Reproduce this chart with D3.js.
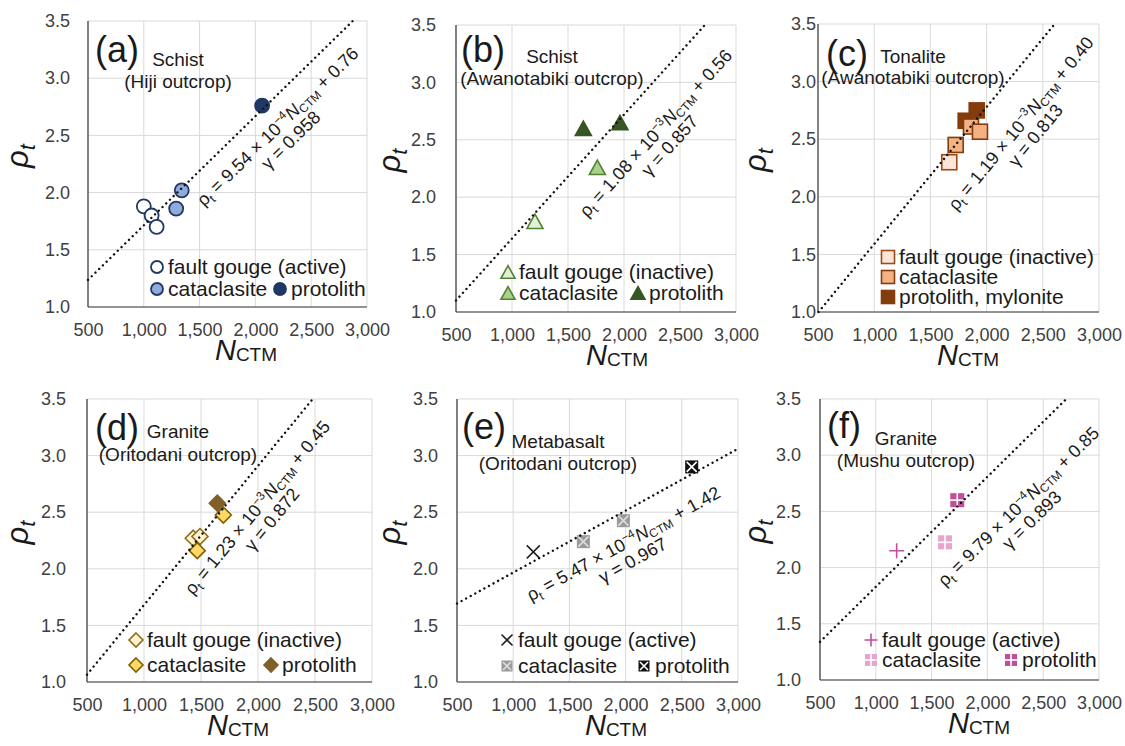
<!DOCTYPE html>
<html>
<head>
<meta charset="utf-8">
<script src="https://cdn.jsdelivr.net/npm/d3@7"></script>
<style>
  body { margin: 0; background: #fff; }
  svg { display: block; }
  text { font-family: "Liberation Sans", Arial, sans-serif; }
</style>
</head>
<body>
<svg id="chart" width="1125" height="746"></svg>
<script>
// ---- axis ticks shared by all six panels ----
const xTicks = [500, 1000, 1500, 2000, 2500, 3000];
const yTicks = [1.0, 1.5, 2.0, 2.5, 3.0, 3.5];

// ---- panel titles ----
const panelTags = ["(a)", "(b)", "(c)", "(d)", "(e)", "(f)"];
const rockTypes = ["Schist", "Schist", "Tonalite", "Granite", "Metabasalt", "Granite"];
const outcrops = ["(Hiji outcrop)", "(Awanotabiki outcrop)", "(Awanotabiki outcrop)",
                  "(Oritodani outcrop)", "(Oritodani outcrop)", "(Mushu outcrop)"];

// ---- linear fits  rho_t = slope * N_CTM + intercept ----
const fitSlope = [9.54e-4, 1.08e-3, 1.19e-3, 1.23e-3, 5.47e-4, 9.79e-4];
const fitIntercept = [0.76, 0.56, 0.40, 0.45, 1.42, 0.85];
const fitMantissa = ["9.54", "1.08", "1.19", "1.23", "5.47", "9.79"];
const fitExponent = ["\u22124", "\u22123", "\u22123", "\u22123", "\u22124", "\u22124"];
const fitGamma = ["0.958", "0.857", "0.813", "0.872", "0.967", "0.893"];

// ---- measurements [N_CTM, rho_t] ----
const gougeA = [[1000, 1.88], [1070, 1.80], [1115, 1.70]];
const cataA  = [[1290, 1.86], [1340, 2.02]];
const protoA = [[2060, 2.76]];

const gougeB = [[1205, 1.79]];
const cataB  = [[1762, 2.26]];
const protoB = [[1637, 2.60], [1964, 2.65]];

const gougeC = [[1668, 2.30]];
const cataC  = [[1725, 2.45], [1861, 2.61], [1941, 2.565]];
const protoC = [[1814, 2.66], [1912, 2.75]];

const gougeD = [[1432, 2.27], [1491, 2.285]];
const cataD  = [[1467, 2.16], [1696, 2.475]];
const protoD = [[1643, 2.58]];

const gougeE = [[1179, 2.15]];
const cataE  = [[1624, 2.24], [1980, 2.425]];
const protoE = [[2588, 2.90]];

const gougeF = [[1187, 2.15]];
const cataF  = [[1620, 2.225]];
const protoF = [[1730, 2.60]];

// ---- legend labels ----
const gougeLabels = ["fault gouge (active)", "fault gouge (inactive)", "fault gouge (inactive)",
                     "fault gouge (inactive)", "fault gouge (active)", "fault gouge (active)"];
const cataLabel = "cataclasite";
const protoLabels = ["protolith", "protolith", "protolith, mylonite", "protolith", "protolith", "protolith"];

// ---- layout of each panel: plot box [left, top, right, bottom] ----
const plotBoxes = [[88, 21, 367, 307], [456, 25, 736, 312], [818, 24, 1099, 312],
                   [87, 399, 372, 682], [457, 399, 738, 682], [820, 399, 1099, 680]];
const yLabelRight = [70, 436, 816, 66, 438, 801];
const xTitleCenter = [246, 617, 968, 238, 616, 979];
const yTitleX = [23, 395, 761, 23, 395, 761];
const tagPos = [[95, 62], [461, 62], [826, 66], [95, 440], [462, 439], [827, 438]];
const subCenter = [178, 552, 913, 178, 558, 906];
const subBase = [[66, 88], [63, 85], [63, 84], [438, 461], [448, 470], [445, 467]];
const eqAlongN = [2055, 2045, 2051, 1818, 1861, 2008];
const eqOffset = [23, 36, 37, 26, 28, 43];
const legendX = [157, 508, 888, 136, 507, 871];
const legendCol2X = [280, 638, null, 271, 644, 1011];
const legendRows = [[267, 289], [272, 293], [257, 277, 297], [640, 665], [640, 666], [640, 660]];

// ---- marker styles per panel: [gouge, cataclasite, protolith] ----
const markerStyles = [
  [{shape: "circle", size: 15, fill: "#ffffff", stroke: "#203864"},
   {shape: "circle", size: 15, fill: "#8faadc", stroke: "#203864"},
   {shape: "circle", size: 15, fill: "#1f3864", stroke: "#1f3864"}],
  [{shape: "triangle", size: 16, fill: "#e2f0d9", stroke: "#548235"},
   {shape: "triangle", size: 16, fill: "#a9d18e", stroke: "#548235"},
   {shape: "triangle", size: 16, fill: "#375623", stroke: "#375623"}],
  [{shape: "square", size: 15, fill: "#fbe5d6", stroke: "#9c4a1a"},
   {shape: "square", size: 15, fill: "#f4b183", stroke: "#843c0c"},
   {shape: "square", size: 15, fill: "#843c0c", stroke: "#843c0c"}],
  [{shape: "diamond", size: 16, fill: "#fff2cc", stroke: "#8c6d1f"},
   {shape: "diamond", size: 16, fill: "#ffd966", stroke: "#7f6000"},
   {shape: "diamond", size: 16, fill: "#806028", stroke: "#806028"}],
  [{shape: "xcross", size: 13, fill: "none", stroke: "#222222"},
   {shape: "xbox", size: 13, fill: "#999999", stroke: "#dddddd"},
   {shape: "xbox", size: 13, fill: "#111111", stroke: "#ffffff"}],
  [{shape: "plus", size: 15, fill: "none", stroke: "#c0509a"},
   {shape: "quad", size: 14, fill: "#e6a5cf", stroke: "none"},
   {shape: "quad", size: 14, fill: "#c0509a", stroke: "none"}]
];

const seriesData = [
  [gougeA, cataA, protoA], [gougeB, cataB, protoB], [gougeC, cataC, protoC],
  [gougeD, cataD, protoD], [gougeE, cataE, protoE], [gougeF, cataF, protoF]
];

const svg = d3.select("#chart");
const TICK_COLOR = "#404040";
const TEXT_COLOR = "#1a1a1a";

function drawMarker(g, st, size) {
  const s = size || st.size, h = s / 2;
  if (st.shape === "circle") {
    g.append("circle").attr("r", h - 0.5).attr("fill", st.fill)
      .attr("stroke", st.stroke).attr("stroke-width", 1.8);
  } else if (st.shape === "triangle") {
    const ht = s * 0.9;
    g.append("path").attr("d", `M0,${-ht / 2}L${h},${ht / 2}L${-h},${ht / 2}Z`)
      .attr("fill", st.fill).attr("stroke", st.stroke).attr("stroke-width", 1.6)
      .attr("stroke-linejoin", "miter");
  } else if (st.shape === "square") {
    g.append("rect").attr("x", -h).attr("y", -h).attr("width", s).attr("height", s)
      .attr("fill", st.fill).attr("stroke", st.stroke).attr("stroke-width", 1.6);
  } else if (st.shape === "diamond") {
    g.append("path").attr("d", `M0,${-h}L${h},0L0,${h}L${-h},0Z`)
      .attr("fill", st.fill).attr("stroke", st.stroke).attr("stroke-width", 1.6);
  } else if (st.shape === "xcross") {
    g.append("path").attr("d", `M${-h},${-h}L${h},${h}M${-h},${h}L${h},${-h}`)
      .attr("stroke", st.stroke).attr("stroke-width", 1.6).attr("fill", "none");
  } else if (st.shape === "xbox") {
    g.append("rect").attr("x", -h).attr("y", -h).attr("width", s).attr("height", s)
      .attr("fill", st.fill);
    const k = h - 1.5;
    g.append("path").attr("d", `M${-k},${-k}L${k},${k}M${-k},${k}L${k},${-k}`)
      .attr("stroke", st.stroke).attr("stroke-width", 1.6).attr("fill", "none");
  } else if (st.shape === "plus") {
    g.append("path").attr("d", `M${-h},0L${h},0M0,${-h}L0,${h}`)
      .attr("stroke", st.stroke).attr("stroke-width", 1.6).attr("fill", "none");
  } else if (st.shape === "quad") {
    const gap = 1.6, q = (s - gap) / 2;
    [[-h, -h], [-h + q + gap, -h], [-h, -h + q + gap], [-h + q + gap, -h + q + gap]]
      .forEach(([x0, y0]) => g.append("rect").attr("x", x0).attr("y", y0)
        .attr("width", q).attr("height", q).attr("fill", st.fill));
  }
}

plotBoxes.forEach((box, i) => {
  const [L, T, R, B] = box;
  const x = d3.scaleLinear().domain([500, 3000]).range([L, R]);
  const y = d3.scaleLinear().domain([1.0, 3.5]).range([B, T]);
  const g = svg.append("g");

  // gridlines
  g.append("g").selectAll("line").data(xTicks).join("line")
    .attr("x1", d => x(d)).attr("x2", d => x(d)).attr("y1", T).attr("y2", B)
    .attr("stroke", "#d9d9d9").attr("stroke-width", 1);
  g.append("g").selectAll("line").data(yTicks).join("line")
    .attr("y1", d => y(d)).attr("y2", d => y(d)).attr("x1", L).attr("x2", R)
    .attr("stroke", "#d9d9d9").attr("stroke-width", 1);

  // tick labels through d3 axes
  const yAxis = d3.axisLeft(y).tickValues(yTicks).tickFormat(d3.format(".1f"))
    .tickSize(0).tickPadding(L - yLabelRight[i]);
  const ya = g.append("g").attr("transform", `translate(${L},0)`).call(yAxis);
  ya.select(".domain").remove();
  ya.selectAll("text").attr("font-size", 18).attr("fill", TICK_COLOR)
    .attr("font-family", '"Liberation Sans", Arial, sans-serif');

  const xAxis = d3.axisBottom(x).tickValues(xTicks).tickFormat(d3.format(","))
    .tickSize(0);
  const xa = g.append("g").attr("transform", `translate(0,${B})`).call(xAxis);
  xa.select(".domain").remove();
  xa.selectAll("text").attr("font-size", 18).attr("fill", TICK_COLOR)
    .attr("y", 29).attr("dy", null)
    .attr("font-family", '"Liberation Sans", Arial, sans-serif');

  // axis lines
  g.append("line").attr("x1", L).attr("x2", L).attr("y1", T).attr("y2", B)
    .attr("stroke", "#3a3a3a").attr("stroke-width", 1.2);
  g.append("line").attr("x1", L).attr("x2", R).attr("y1", B).attr("y2", B)
    .attr("stroke", "#3a3a3a").attr("stroke-width", 1.2);

  // data markers: gouge, protolith, then cataclasite on top
  const styles = markerStyles[i];
  [0, 2, 1].forEach(s => {
    seriesData[i][s].forEach(([n, r]) => {
      const mg = g.append("g").attr("transform", `translate(${x(n)},${y(r)})`);
      drawMarker(mg, styles[s]);
    });
  });

  // fitted line, clipped to the plot window
  const a = fitSlope[i], b = fitIntercept[i];
  const n0 = Math.max(500, (1.0 - b) / a);
  const n1 = Math.min(3000, (3.5 - b) / a);
  g.append("line")
    .attr("x1", x(n0)).attr("y1", y(a * n0 + b))
    .attr("x2", x(n1)).attr("y2", y(a * n1 + b))
    .attr("stroke", "#111").attr("stroke-width", 2.4)
    .attr("stroke-linecap", "round").attr("stroke-dasharray", "0.01 5.2");

  // equation label along the fitted line
  const pxSlope = (y(a * 3000 + b) - y(a * 500 + b)) / (x(3000) - x(500));
  const angle = Math.atan(pxSlope) * 180 / Math.PI;
  const nA = eqAlongN[i];
  const eg = g.append("g")
    .attr("transform", `translate(${x(nA)},${y(a * nA + b)}) rotate(${angle})`);
  const eq1 = eg.append("text").attr("text-anchor", "middle").attr("y", eqOffset[i] + 6)
    .attr("font-size", 18).attr("fill", TEXT_COLOR);
  eq1.append("tspan").text("\u03c1");
  eq1.append("tspan").attr("font-size", 12).attr("dy", 4).text("t");
  eq1.append("tspan").attr("dy", -4).text(` = ${fitMantissa[i]} \u00d7 10`);
  eq1.append("tspan").attr("font-size", 12).attr("dy", -7).text(fitExponent[i]);
  eq1.append("tspan").attr("font-style", "italic").attr("dy", 7).text("N");
  eq1.append("tspan").attr("font-size", 12).attr("dy", 3).text("CTM");
  eq1.append("tspan").attr("dy", -3).text(` + ${b.toFixed(2)}`);
  eg.append("text").attr("text-anchor", "middle").attr("y", eqOffset[i] + 6 + 19)
    .attr("font-size", 18).attr("fill", TEXT_COLOR)
    .text(`\u03b3 = ${fitGamma[i]}`);

  // panel tag and rock description
  g.append("text").attr("x", tagPos[i][0]).attr("y", tagPos[i][1])
    .attr("font-size", 36).attr("fill", TEXT_COLOR).text(panelTags[i]);
  g.append("text").attr("x", subCenter[i]).attr("y", subBase[i][0])
    .attr("text-anchor", "middle").attr("font-size", 19).attr("fill", TEXT_COLOR)
    .text(rockTypes[i]);
  g.append("text").attr("x", subCenter[i]).attr("y", subBase[i][1])
    .attr("text-anchor", "middle").attr("font-size", 19).attr("fill", TEXT_COLOR)
    .text(outcrops[i]);

  // axis titles
  const xt = g.append("text").attr("x", xTitleCenter[i]).attr("y", B + 53)
    .attr("text-anchor", "middle").attr("fill", TEXT_COLOR);
  xt.append("tspan").attr("font-size", 29).attr("font-style", "italic").text("N");
  xt.append("tspan").attr("font-size", 19).attr("dy", 1).text("CTM");
  const yt = g.append("text")
    .attr("transform", `translate(${yTitleX[i]},${(T + B) / 2 - 8}) rotate(-90)`)
    .attr("text-anchor", "middle").attr("dy", "0.3em").attr("fill", TEXT_COLOR);
  yt.append("tspan").attr("font-size", 31).attr("font-style", "italic").text("\u03c1");
  yt.append("tspan").attr("font-size", 22).attr("font-style", "italic").attr("dy", 7).text("t");

  // legend
  const rows = legendRows[i];
  const entries = [];
  entries.push({st: styles[0], label: gougeLabels[i], mx: legendX[i], my: rows[0]});
  entries.push({st: styles[1], label: cataLabel, mx: legendX[i], my: rows[1]});
  if (legendCol2X[i] === null) {
    entries.push({st: styles[2], label: protoLabels[i], mx: legendX[i], my: rows[2]});
  } else {
    entries.push({st: styles[2], label: protoLabels[i], mx: legendCol2X[i], my: rows[1]});
  }
  entries.forEach(e => {
    const lg = g.append("g").attr("transform", `translate(${e.mx},${e.my})`);
    drawMarker(lg, e.st, e.st.size - 2);
    g.append("text").attr("x", e.mx + 11).attr("y", e.my).attr("dy", "0.35em")
      .attr("font-size", 21).attr("fill", TEXT_COLOR).text(e.label);
  });
});
</script>
</body>
</html>
